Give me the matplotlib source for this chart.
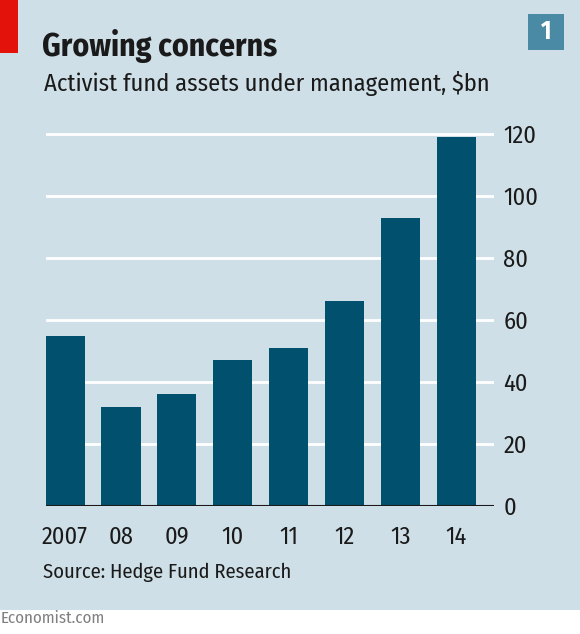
import matplotlib
matplotlib.use("Agg")
import matplotlib.pyplot as plt
from matplotlib.patches import Rectangle
from matplotlib import font_manager

years = ["2007", "08", "09", "10", "11", "12", "13", "14"]
assets = [55, 32, 36, 47, 51, 66, 93, 119]
yticks = [0, 20, 40, 60, 80, 100, 120]

names = {f.name for f in font_manager.fontManager.ttflist}
prefs = ["Fira Sans Condensed", "PT Sans Narrow", "Roboto Condensed", "Ubuntu Condensed",
         "Encode Sans Condensed", "Liberation Sans Narrow", "Open Sans Condensed", "DejaVu Sans"]
fam = next(p for p in prefs if p in names or p == "DejaVu Sans")
plt.rcParams['font.family'] = [fam, 'DejaVu Sans']

W, H = 580, 634
fig = plt.figure(figsize=(W/100, H/100), dpi=100)
fig.patch.set_facecolor("white")
bg = "#cfdfe7"
fig.patches.append(Rectangle((0, (H-610)/H), 1, 610/H, transform=fig.transFigure,
                             facecolor=bg, edgecolor="none", zorder=-5))
fig.patches.append(Rectangle((0, (H-53)/H), 18/W, 53/H, transform=fig.transFigure,
                             facecolor="#e3120b", edgecolor="none", zorder=1))
fig.patches.append(Rectangle((528/W, (H-50)/H), 36/W, 36/H, transform=fig.transFigure,
                             facecolor="#4a8aa5", edgecolor="none", zorder=1))
fig.text(546/W, (H-32)/H, "1", color="white", fontsize=18, fontweight="bold",
         ha="center", va="center")

renderer = fig.canvas.get_renderer()

def fit(t, target_w):
    w = t.get_window_extent(renderer).width
    t.set_fontsize(t.get_fontsize() * target_w / w)
    return t

fit(fig.text(42/W, (H-56)/H, "Growing concerns", fontsize=20, fontweight="bold",
             color="#1a1a1a", ha="left", va="baseline"), 236)
fit(fig.text(44/W, (H-91)/H, "Activist fund assets under management, $bn", fontsize=15,
             color="#1a1a1a", ha="left", va="baseline"), 444)
fit(fig.text(43/W, (H-578)/H, "Source: Hedge Fund Research", fontsize=14,
             color="#1a1a1a", ha="left", va="baseline"), 250)
fit(fig.text(1/W, (H-623)/H, "Economist.com", fontsize=12, color="#808080",
             ha="left", va="baseline"), 105)

probe = fig.text(0, 0, "2007", fontsize=16)
tick_fs = 16 * 46 / probe.get_window_extent(renderer).width
probe.remove()

ymax = 122
left, right = 45.5, 493.7
bottom_px, top_px = 506, 506 - ymax*3.1
ax = fig.add_axes([left/W, (H-bottom_px)/H, (right-left)/W, (bottom_px-top_px)/H])
ax.set_zorder(2)
ax.set_facecolor("none")
x = list(range(len(years)))
ax.bar(x, assets, width=0.7, color="#00506e", zorder=3)
ax.set_xlim(-0.35, 7.67)
ax.set_ylim(0, ymax)
for v in yticks[1:]:
    ax.axhline(v, color="white", lw=2, zorder=1)
ax.axhline(0, color="#1a1a1a", lw=1.5, zorder=4)
for s in ax.spines.values():
    s.set_visible(False)
ax.yaxis.tick_right()
ax.set_yticks(yticks)
ax.set_yticklabels([str(v) for v in yticks], fontsize=tick_fs, color="#1a1a1a")
ax.tick_params(axis="y", length=0, pad=7)
ax.set_xticks(x)
ax.set_xticklabels(years, fontsize=tick_fs, color="#1a1a1a")
ax.tick_params(axis="x", length=0, pad=14)

fig.savefig("out.png", dpi=100, facecolor="white")
